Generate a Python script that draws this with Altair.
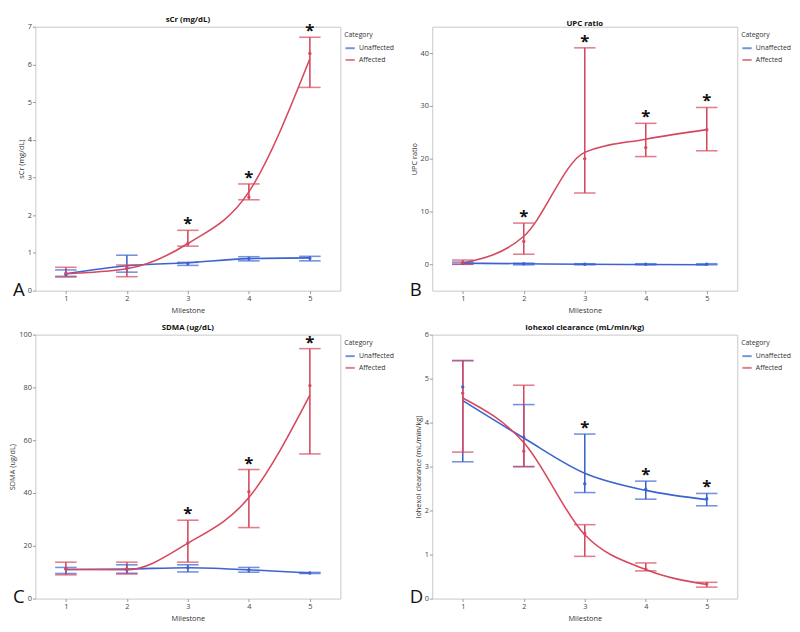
import altair as alt
import pandas as pd

milestones = [1, 2, 3, 4, 5]
categories = ["Unaffected", "Affected"]

# sCr (mg/dL)
scr_unaff_mean = [0.43, 0.60, 0.72, 0.85, 0.86]
scr_unaff_lo = [0.38, 0.49, 0.67, 0.79, 0.79]
scr_unaff_hi = [0.55, 0.94, 0.75, 0.90, 0.91]
scr_unaff_fit = [0.45, 0.66, 0.74, 0.85, 0.87]
scr_aff_mean = [0.46, 0.60, 1.25, 2.48, 6.29]
scr_aff_lo = [0.36, 0.37, 1.18, 2.41, 5.39]
scr_aff_hi = [0.62, 0.68, 1.60, 2.83, 6.72]
scr_aff_fit = [0.45, 0.58, 1.25, 2.62, 6.15]
scr_sig = [3, 4, 5]

# UPC ratio
upc_unaff_mean = [0.2, 0.1, 0.0, 0.0, 0.0]
upc_unaff_lo = [0.0, -0.1, -0.1, -0.1, -0.1]
upc_unaff_hi = [0.4, 0.2, 0.1, 0.1, 0.1]
upc_unaff_fit = [0.2, 0.1, 0.0, -0.05, -0.1]
upc_aff_mean = [0.3, 4.3, 20.0, 22.1, 25.5]
upc_aff_lo = [0.0, 1.9, 13.5, 20.4, 21.5]
upc_aff_hi = [0.8, 7.8, 41.0, 26.7, 29.7]
upc_aff_fit = [0.2, 5.3, 21.2, 23.7, 25.5]
upc_sig = [2, 3, 4, 5]

# SDMA (ug/dL)
sdma_unaff_mean = [11.2, 10.9, 11.7, 10.8, 9.7]
sdma_unaff_lo = [9.5, 9.6, 10.1, 10.0, 9.5]
sdma_unaff_hi = [11.8, 12.8, 12.8, 11.8, 9.9]
sdma_unaff_fit = [11.0, 11.2, 11.7, 10.9, 9.7]
sdma_aff_mean = [11.3, 11.3, 21.1, 40.5, 80.7]
sdma_aff_lo = [9.0, 9.3, 13.8, 26.9, 54.8]
sdma_aff_hi = [13.8, 13.8, 29.7, 48.9, 94.7]
sdma_aff_fit = [11.0, 10.9, 21.0, 38.3, 77.1]
sdma_sig = [3, 4, 5]

# Iohexol clearance (mL/min/kg)
ioh_unaff_mean = [4.81, 3.67, 2.61, 2.48, 2.27]
ioh_unaff_lo = [3.11, 3.00, 2.41, 2.26, 2.11]
ioh_unaff_hi = [5.41, 4.41, 3.74, 2.67, 2.39]
ioh_unaff_fit = [4.50, 3.65, 2.85, 2.46, 2.25]
ioh_aff_mean = [4.67, 3.35, 1.48, 0.67, 0.33]
ioh_aff_lo = [3.33, 3.00, 0.96, 0.63, 0.26]
ioh_aff_hi = [5.41, 4.85, 1.68, 0.81, 0.37]
ioh_aff_fit = [4.56, 3.55, 1.45, 0.66, 0.32]
ioh_sig = [3, 4, 5]

BLUE = "#3b63d1"
RED = "#d6485d"
FONT = "Open Sans"
W = 312
H = 270


def panel(title, ytitle, ydomain, yticks, letter, unaff, aff, sig):
    rows = []
    for cat, s in zip(categories, [unaff, aff]):
        mean, lo, hi, fit = s
        for i, m in enumerate(milestones):
            rows.append(dict(Milestone=m, Category=cat, mean=mean[i], lo=lo[i], hi=hi[i], fit=fit[i]))
    df = pd.DataFrame(rows)
    star_df = pd.DataFrame(
        [dict(Milestone=m, top=max(unaff[2][m - 1], aff[2][m - 1])) for m in sig]
    )
    x = alt.X(
        "Milestone:Q",
        scale=alt.Scale(domain=[0.5, 5.5], nice=False, zero=False),
        axis=alt.Axis(values=milestones, title="Milestone", grid=False, format="d", titlePadding=5),
    )
    yscale = alt.Scale(domain=ydomain, nice=False, zero=False)
    yaxis = alt.Axis(values=yticks, title=ytitle, grid=False, titlePadding=2)
    color = alt.Color(
        "Category:N",
        scale=alt.Scale(domain=categories, range=[BLUE, RED]),
        sort=categories,
        legend=alt.Legend(
            title="Category", orient="none", legendX=W + 4, legendY=5,
            symbolType="stroke", symbolStrokeWidth=2, symbolSize=90,
        ),
    )
    base = alt.Chart(df)
    line = base.mark_line(interpolate="monotone", strokeWidth=1.6).encode(
        x=x, y=alt.Y("fit:Q", scale=yscale, axis=yaxis), color=color
    )
    rule = base.mark_rule(strokeWidth=1.6).encode(
        x=x, y=alt.Y("lo:Q", scale=yscale, axis=yaxis), y2="hi:Q", color=color
    )
    cap_hi = base.mark_tick(orient="horizontal", size=22, thickness=1.6).encode(
        x=x, y=alt.Y("hi:Q", scale=yscale, axis=yaxis), color=color
    )
    cap_lo = base.mark_tick(orient="horizontal", size=22, thickness=1.6).encode(
        x=x, y=alt.Y("lo:Q", scale=yscale, axis=yaxis), color=color
    )
    pts = base.mark_circle(size=12, opacity=1).encode(
        x=x, y=alt.Y("mean:Q", scale=yscale, axis=yaxis), color=color
    )
    stars = alt.Chart(star_df).mark_text(
        text="*", fontSize=17, fontWeight="bold", baseline="alphabetic", dy=-1,
        color="#111", font=FONT,
    ).encode(x=x, y=alt.Y("top:Q", scale=yscale, axis=yaxis))
    lab = alt.Chart(pd.DataFrame({"t": [letter]})).mark_text(
        fontSize=19, align="left", baseline="alphabetic", font=FONT, color="#111"
    ).encode(text="t:N", x=alt.value(-23), y=alt.value(H + 5))
    return alt.layer(line, rule, cap_hi, cap_lo, pts, stars, lab).properties(
        width=W, height=H,
        title=alt.TitleParams(title, fontSize=8, fontWeight="bold", font=FONT, offset=-1, color="#111"),
    )


pA = panel("sCr (mg/dL)", "sCr (mg/dL)", [0, 7], [0, 1, 2, 3, 4, 5, 6, 7], "A",
           (scr_unaff_mean, scr_unaff_lo, scr_unaff_hi, scr_unaff_fit),
           (scr_aff_mean, scr_aff_lo, scr_aff_hi, scr_aff_fit), scr_sig)
pB = panel("UPC ratio", "UPC ratio", [-5, 45], [0, 10, 20, 30, 40], "B",
           (upc_unaff_mean, upc_unaff_lo, upc_unaff_hi, upc_unaff_fit),
           (upc_aff_mean, upc_aff_lo, upc_aff_hi, upc_aff_fit), upc_sig)
pC = panel("SDMA (ug/dL)", "SDMA (ug/dL)", [0, 100], [0, 20, 40, 60, 80, 100], "C",
           (sdma_unaff_mean, sdma_unaff_lo, sdma_unaff_hi, sdma_unaff_fit),
           (sdma_aff_mean, sdma_aff_lo, sdma_aff_hi, sdma_aff_fit), sdma_sig)
pD = panel("Iohexol clearance (mL/min/kg)", "Iohexol clearance (mL/min/kg)", [0, 6],
           [0, 1, 2, 3, 4, 5, 6], "D",
           (ioh_unaff_mean, ioh_unaff_lo, ioh_unaff_hi, ioh_unaff_fit),
           (ioh_aff_mean, ioh_aff_lo, ioh_aff_hi, ioh_aff_fit), ioh_sig)

row1 = alt.hconcat(pA, pB, spacing=14).resolve_scale(color="independent", y="independent").resolve_legend(color="independent")
row2 = alt.hconcat(pC, pD, spacing=14).resolve_scale(color="independent", y="independent").resolve_legend(color="independent")

chart = (
    alt.vconcat(row1, row2, spacing=8)
    .resolve_scale(color="independent", y="independent")
    .resolve_legend(color="independent")
    .properties(padding=0, background="white")
    .configure_view(stroke="#c8c8c8", strokeWidth=1)
    .configure_axis(
        labelFont=FONT, titleFont=FONT, labelFontSize=7.5, titleFontSize=7.5,
        titleFontWeight="normal", labelColor="#444", titleColor="#333",
        tickColor="#999", tickSize=3, domain=False, labelPadding=1,
    )
    .configure_legend(
        labelFont=FONT, titleFont=FONT, labelFontSize=7, titleFontSize=7,
        titleFontWeight="normal", labelColor="#333", titleColor="#333",
        rowPadding=2, titlePadding=4, labelOffset=3,
    )
)

chart.save("out.html", embed_options={"renderer": "svg", "actions": False})
